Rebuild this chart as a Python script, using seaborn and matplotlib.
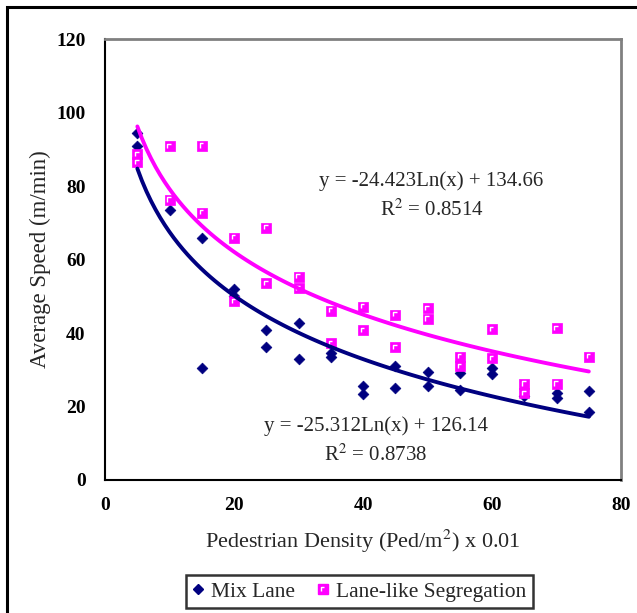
import numpy as np
import pandas as pd
import seaborn as sns
import matplotlib.pyplot as plt
from matplotlib.path import Path
from matplotlib.lines import Line2D
from matplotlib.patches import Rectangle

# values
mix_density = [5, 5, 10, 15, 15, 20, 20, 25, 25, 30, 30, 35, 35, 40, 40,
               45, 45, 50, 50, 55, 55, 60, 60, 65, 70, 70, 75, 75]
mix_speed = [94.5, 91.0, 73.6, 65.9, 30.5, 52.0, 50.0, 40.7, 36.3, 42.7, 32.9, 34.7, 33.6, 25.7, 23.4,
             30.9, 25.1, 29.5, 25.6, 29.2, 24.5, 30.4, 28.9, 22.9, 23.6, 22.3, 24.1, 18.6]

seg_density = [5, 5, 10, 10, 15, 15, 20, 20, 25, 25, 30, 30, 35, 35, 40, 40,
               45, 45, 50, 50, 55, 55, 60, 60, 65, 65, 70, 70, 75]
seg_speed = [88.8, 86.6, 90.8, 76.3, 91.0, 72.8, 66.0, 48.6, 68.7, 53.6, 55.4, 52.2, 46.1, 37.2, 47.2, 40.7,
             45.0, 36.2, 46.8, 43.9, 33.6, 30.9, 41.1, 33.2, 26.2, 23.6, 41.3, 26.2, 33.6]

eq_mix = 'y = -25.312Ln(x) + 126.14\nR$^2$ = 0.8738'
eq_seg = 'y = -24.423Ln(x) + 134.66\nR$^2$ = 0.8514'

mix = pd.DataFrame({'density': mix_density, 'speed': mix_speed})
seg = pd.DataFrame({'density': seg_density, 'speed': seg_speed})

sns.set_theme(style='white')
plt.rcParams['font.family'] = ['Liberation Serif', 'DejaVu Serif']
plt.rcParams['mathtext.fontset'] = 'stix'

NAVY = '#000080'
MAG = '#FF00FF'

# white corner mark inside the magenta squares
gamma = Path([(-0.5, -0.4), (-0.5, 0.5), (0.3, 0.5), (1, 1)],
             [Path.MOVETO, Path.LINETO, Path.LINETO, Path.MOVETO])

fig = plt.figure(figsize=(6.37, 6.13), dpi=100)
ax = fig.add_axes([0.165, 0.217, 0.81, 0.719])

sns.scatterplot(data=mix, x='density', y='speed', marker='D', s=30, color=NAVY,
                edgecolor=NAVY, linewidth=0.5, ax=ax, zorder=3)
sns.scatterplot(data=seg, x='density', y='speed', marker='s', s=42, color=MAG,
                edgecolor=MAG, linewidth=0.5, ax=ax, zorder=3)
ax.scatter(seg['density'], seg['speed'], marker=gamma, s=42, facecolors='none',
           edgecolors='white', linewidths=1.0, zorder=4)

sns.regplot(data=mix, x='density', y='speed', logx=True, scatter=False, ci=None,
            color=NAVY, line_kws=dict(lw=2.8, zorder=5), ax=ax)
sns.regplot(data=seg, x='density', y='speed', logx=True, scatter=False, ci=None,
            color=MAG, line_kws=dict(lw=2.8, zorder=5), ax=ax)

ax.set_xlim(0, 80)
ax.set_ylim(0, 120)
ax.set_xticks([0, 20, 40, 60, 80])
ax.set_yticks([0, 20, 40, 60, 80, 100, 120])
ax.tick_params(direction='in', length=4, width=1.5, colors='black', labelsize=14)
for lab in ax.get_xticklabels() + ax.get_yticklabels():
    lab.set_fontweight('bold')
ax.tick_params(axis='y', pad=14)
ax.tick_params(axis='x', pad=12)

for s in ['left', 'bottom']:
    ax.spines[s].set_color('black')
    ax.spines[s].set_linewidth(1.5)
for s in ['top', 'right']:
    ax.spines[s].set_color('#808080')
    ax.spines[s].set_linewidth(2)

ax.set_xlabel('Pedestrian Density (Ped/m$^2$) x 0.01', fontsize=16, labelpad=10)
ax.set_ylabel('Average Speed (m/min)', fontsize=16.5, labelpad=4)

ax.text(50.6, 77.4, eq_seg, ha='center', va='center', multialignment='center',
        fontsize=15, linespacing=1.5)
ax.text(42.0, 10.6, eq_mix, ha='center', va='center', multialignment='center',
        fontsize=15, linespacing=1.5)

h_mix = Line2D([], [], marker='D', ls='', color=NAVY, ms=5.5)
h_sq = Line2D([], [], marker='s', ls='', color=MAG, ms=6.5)
h_gm = Line2D([], [], marker=gamma, ls='', mfc='none', mec='white', mew=1.0, ms=6.5)
leg = fig.legend([h_mix, (h_sq, h_gm)], ['Mix Lane', 'Lane-like Segregation'],
                 loc='center', bbox_to_anchor=(0.564, 0.035), ncol=2, fontsize=15.5,
                 frameon=True, fancybox=False, edgecolor='black',
                 handlelength=0.6, handletextpad=0.3, columnspacing=1.0,
                 borderpad=0.3)
leg.get_frame().set_linewidth(1.8)

fig.patches.append(Rectangle((7 / 637, -0.05), 1.1, 1.05 - 7 / 613,
                             transform=fig.transFigure, fill=False,
                             edgecolor='black', lw=2.2, clip_on=False))

fig.savefig('out.png', dpi=100, facecolor='white')
